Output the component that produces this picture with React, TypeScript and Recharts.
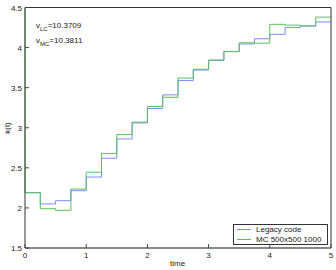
import { LineChart, Line, XAxis, YAxis } from "recharts";

const time = [0, 0.25, 0.5, 0.75, 1, 1.25, 1.5, 1.75, 2, 2.25, 2.5, 2.75, 3, 3.25, 3.5, 3.75, 4, 4.25, 4.5, 4.75, 5];
const legacy = [2.19, 2.05, 2.09, 2.215, 2.385, 2.62, 2.86, 3.06, 3.24, 3.41, 3.59, 3.72, 3.84, 3.95, 4.045, 4.11, 4.165, 4.25, 4.27, 4.32, 4.32];
const mc = [2.19, 1.99, 1.97, 2.235, 2.445, 2.68, 2.915, 3.07, 3.265, 3.38, 3.62, 3.73, 3.845, 3.95, 4.06, 4.055, 4.29, 4.28, 4.27, 4.38, 4.38];
// MC run starts off the top of the axes at t=0
const mcStart = 4.5;

const xTicks = [0, 1, 2, 3, 4, 5];
const yTicks = [1.5, 2, 2.5, 3, 3.5, 4, 4.5];
const seriesNames = ["Legacy code", "MC 500x500 1000"];

const BLUE = "#7b8cf5";
const GREEN = "#5cbf5c";
const FONT = "'Liberation Sans', Arial, sans-serif";

const legacyData = time.map((t, i) => ({ t, k: legacy[i] }));
const mcData = [{ t: 0, k: mcStart }, ...time.map((t, i) => ({ t, k: mc[i] }))];

const BottomTick = (props: any) => {
    const { x, y, payload } = props;
    return (
        <g>
            <line x1={x} x2={x} y1={y} y2={y - 4} stroke="#444" />
            <text x={x} y={y + 10} textAnchor="middle" fontSize={8} fill="#222" fontFamily={FONT}>
                {payload.value}
            </text>
        </g>
    );
};

const LeftTick = (props: any) => {
    const { x, y, payload } = props;
    return (
        <g>
            <line x1={x} x2={x + 4} y1={y} y2={y} stroke="#444" />
            <text x={x - 3} y={y + 3} textAnchor="end" fontSize={8} fill="#222" fontFamily={FONT}>
                {payload.value}
            </text>
        </g>
    );
};

const TopTick = (props: any) => {
    const { x, y } = props;
    return <line x1={x} x2={x} y1={y} y2={y + 4} stroke="#444" />;
};

const RightTick = (props: any) => {
    const { x, y } = props;
    return <line x1={x} x2={x - 4} y1={y} y2={y} stroke="#444" />;
};

const LegendBox = () => (
    <div
        style={{
            position: "absolute",
            left: 233,
            top: 224,
            width: 95,
            height: 21,
            boxSizing: "border-box",
            border: "1px solid #333",
            background: "#fff",
            fontFamily: FONT,
            fontSize: 8,
            color: "#222",
            padding: "0px 3px",
        }}
    >
        {[BLUE, GREEN].map((color, i) => (
            <div key={seriesNames[i]} style={{ display: "flex", alignItems: "center", height: 9.5, lineHeight: "9px" }}>
                <span style={{ width: 14, height: 1, background: color, marginRight: 5 }}></span>
                <span>{seriesNames[i]}</span>
            </div>
        ))}
    </div>
);

export default function App() {
    return (
        <div style={{ position: "absolute", left: 0, top: 0, width: 336, height: 270, background: "#fff" }}>
            <LineChart width={336} height={270} margin={{ top: 6.5, right: 4, left: 0, bottom: 0 }}>
                <XAxis
                    xAxisId="b"
                    dataKey="t"
                    type="number"
                    domain={[0, 5]}
                    ticks={xTicks}
                    height={22}
                    tickSize={0}
                    tickMargin={0}
                    tickLine={false}
                    tick={<BottomTick />}
                    axisLine={{ stroke: "#888", strokeWidth: 2 }}
                    interval={0}
                />
                <XAxis
                    xAxisId="top"
                    orientation="top"
                    dataKey="t"
                    type="number"
                    domain={[0, 5]}
                    ticks={xTicks}
                    height={1}
                    tickSize={0}
                    tickMargin={0}
                    tickLine={false}
                    tick={<TopTick />}
                    axisLine={{ stroke: "#333" }}
                    interval={0}
                />
                <YAxis
                    yAxisId="l"
                    type="number"
                    domain={[1.5, 4.5]}
                    ticks={yTicks}
                    width={25}
                    tickSize={0}
                    tickMargin={0}
                    tickLine={false}
                    tick={<LeftTick />}
                    axisLine={{ stroke: "#333" }}
                    allowDataOverflow
                    interval={0}
                />
                <YAxis
                    yAxisId="r"
                    orientation="right"
                    type="number"
                    domain={[1.5, 4.5]}
                    ticks={yTicks}
                    width={1}
                    tickSize={0}
                    tickMargin={0}
                    tickLine={false}
                    tick={<RightTick />}
                    axisLine={{ stroke: "#333" }}
                    interval={0}
                />
                <Line
                    xAxisId="b"
                    yAxisId="l"
                    data={legacyData}
                    dataKey="k"
                    name={seriesNames[0]}
                    type="stepAfter"
                    stroke={BLUE}
                    strokeWidth={1}
                    dot={false}
                    isAnimationActive={false}
                />
                <Line
                    xAxisId="b"
                    yAxisId="l"
                    data={mcData}
                    dataKey="k"
                    name={seriesNames[1]}
                    type="stepAfter"
                    stroke={GREEN}
                    strokeWidth={1}
                    dot={false}
                    isAnimationActive={false}
                />
            </LineChart>
            <LegendBox />
            <div
                style={{
                    position: "absolute",
                    left: 2,
                    top: 128,
                    transform: "translate(0, -50%) rotate(-90deg)",
                    transformOrigin: "center",
                    fontFamily: FONT,
                    fontSize: 8,
                    color: "#222",
                }}
            >
                k(t)
            </div>
            <div
                style={{
                    position: "absolute",
                    left: 170,
                    top: 259,
                    fontFamily: FONT,
                    fontSize: 8,
                    color: "#222",
                }}
            >
                time
            </div>
            <div
                style={{
                    position: "absolute",
                    left: 36,
                    top: 20,
                    fontFamily: FONT,
                    fontSize: 8,
                    color: "#222",
                    lineHeight: "11px",
                }}
            >
                <div>
                    v<sub style={{ fontSize: 6 }}>LC</sub>=10.3709
                </div>
                <div>
                    v<sub style={{ fontSize: 6 }}>MC</sub>=10.3811
                </div>
            </div>
        </div>
    );
}
